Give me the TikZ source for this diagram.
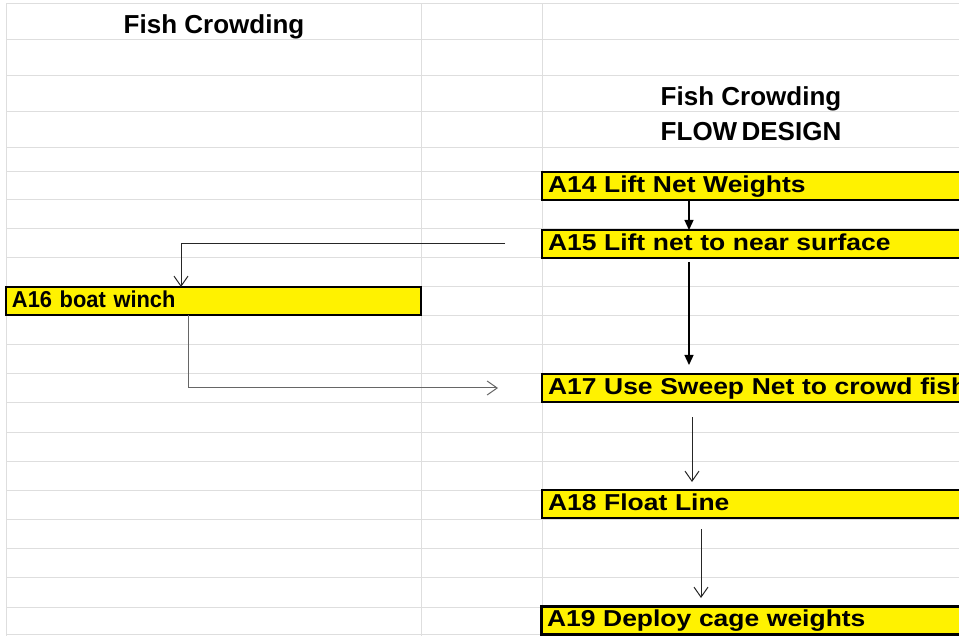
\documentclass[tikz,border=0pt]{standalone}
\usepackage{fontspec}
\setmainfont{Liberation Sans}
\newfontfamily\wideboxfont{Liberation Sans}[FakeStretch=1.15]
\newfontfamily\narrowboxfont{Liberation Sans}[FakeStretch=0.95]
\usetikzlibrary{arrows.meta}
\begin{document}
\begin{tikzpicture}[x=1pt,y=-1pt,
  gridline/.style={draw=black!13, line width=1pt},
  boxbase/.style={draw=black, fill=yellow, line width=2pt, anchor=north west,
    minimum height=28pt, inner xsep=6pt, inner ysep=0pt, outer sep=0pt,
    align=left, text height=17.5pt, text depth=4.5pt},
  rbox/.style={boxbase, text width=408pt, font=\wideboxfont\bfseries\fontsize{23}{23}\selectfont},
  lbox/.style={boxbase, text width=403pt, font=\narrowboxfont\bfseries\fontsize{23}{23}\selectfont},
  titletext/.style={anchor=base, inner sep=0pt, font=\bfseries\fontsize{26}{26}\selectfont},
  fillarrow/.style={draw=black, line width=1.3pt, -{Triangle[length=10pt,width=9pt]}},
  openarrow/.style={draw=black!85, line width=1pt, -{Straight Barb[length=10pt,width=14pt]}},
]
\useasboundingbox (0,0) rectangle (959,636);
\clip (0,0) rectangle (959,636);
\fill[white] (0,0) rectangle (959,636);
% grid
\foreach \yy in {4,40,76,112,148,172,200,229,258,287,316,345,374,403,432,461,490,519,548,577,607,634}
  \draw[gridline] (6,\yy) -- (960,\yy);
\foreach \xx in {6,421,542}
  \draw[gridline] (\xx,4) -- (\xx,636);
% titles
\node[titletext] (t1) at (214,34) {Fish Crowding};
\node[titletext] (t2) at (751,106) {Fish Crowding};
\node[titletext] (t3) at (751,141) {FLOW\,DESIGN};
% boxes
\node[rbox] (a14) at (542,172) {\mbox{A14 Lift Net Weights}};
\node[rbox] (a15) at (542,230) {\mbox{A15 Lift net to near surface}};
\node[lbox] (a16) at (6,287) {\mbox{A16 boat winch}};
\node[rbox] (a17) at (542,374) {\mbox{A17 Use Sweep Net to crowd fish}};
\node[rbox] (a18) at (542,490) {\mbox{A18 Float Line}};
\node[rbox, line width=3pt] (a19) at (541,606) {\mbox{A19 Deploy cage weights}};
% connectors
\draw[fillarrow] ([xshift=147pt]a14.south west) -- ([xshift=147pt]a15.north west);
\draw[openarrow] ([xshift=-37pt]a15.west) -| ([xshift=175pt]a16.north west);
\draw[fillarrow] ([xshift=147pt,yshift=-4pt]a15.south west) -- ([xshift=147pt,yshift=9pt]a17.north west);
\draw[openarrow, draw=black!60] ([xshift=182pt]a16.south west) |- ([xshift=-44pt]a17.west);
\draw[openarrow] ([xshift=150pt,yshift=-15pt]a17.south west) -- ([xshift=150pt,yshift=8pt]a18.north west);
\draw[openarrow] ([xshift=159pt,yshift=-11pt]a18.south west) -- ([xshift=160pt,yshift=8pt]a19.north west);
\end{tikzpicture}
\end{document}
